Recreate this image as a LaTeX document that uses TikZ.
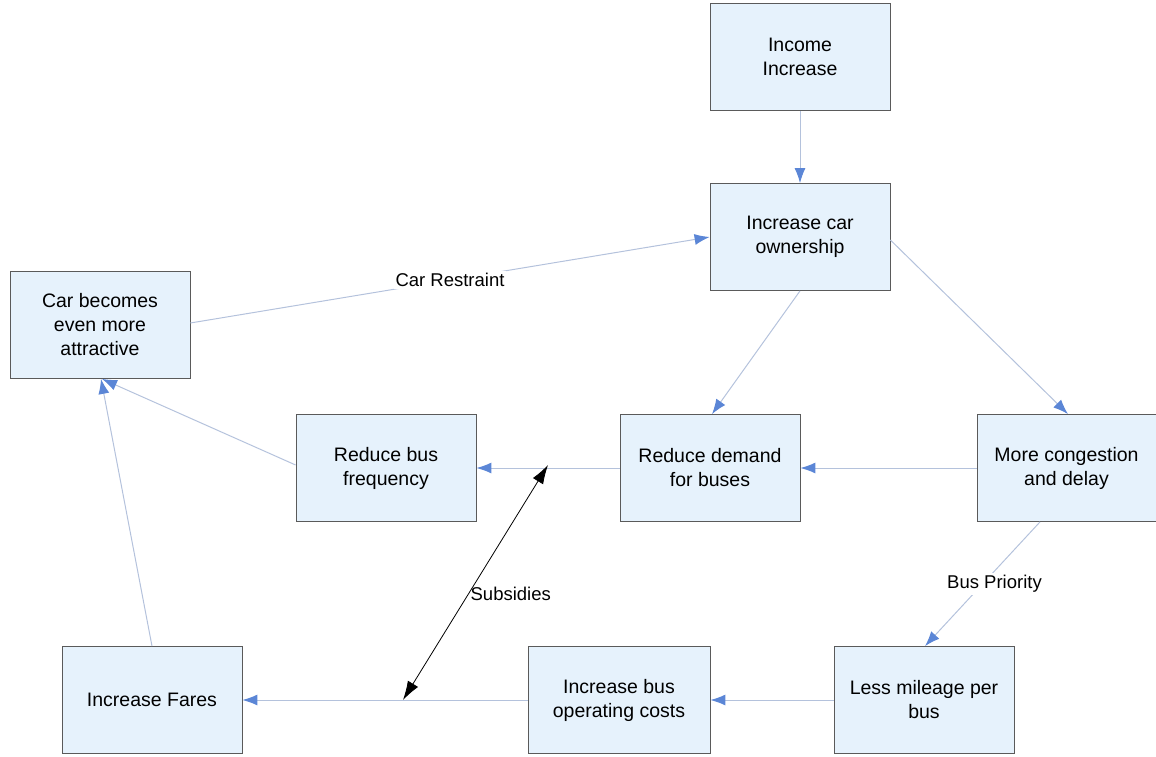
\documentclass[tikz,border=0pt]{standalone}
\usepackage{fontspec}
\setmainfont{Liberation Sans}
\usetikzlibrary{arrows.meta}
\definecolor{boxfill}{HTML}{E6F2FC}
\definecolor{boxline}{HTML}{5A5A5A}
\definecolor{linkline}{HTML}{B4C2DC}
\definecolor{headcol}{HTML}{5B86D6}
\begin{document}
\begin{tikzpicture}[x=1pt,y=-1pt,
  box/.style={draw=boxline,line width=0.8pt,fill=boxfill,minimum width=180pt,minimum height=107pt,
    align=center,font=\fontsize{19.5}{24}\selectfont,inner sep=2pt},
  link/.style={draw=linkline,line width=1pt,-{Latex[length=15pt,width=11pt,fill=headcol,color=headcol]}},
  lbl/.style={font=\fontsize{18.5}{22}\selectfont,fill=white,inner sep=2pt}]
\useasboundingbox (0,0) rectangle (1156,757);
\node[box] (inc) at (800,57) {Income\\Increase};
\node[box] (own) at (800,237) {Increase car\\ownership};
\node[box] (attr) at (100,325) {Car becomes\\even more\\attractive};
\node[box] (freq) at (386,468) {Reduce bus\\frequency};
\node[box] (dem) at (710,468) {Reduce demand\\for buses};
\node[box,minimum width=179pt] (cong) at (1066.5,468) {More congestion\\and delay};
\node[box] (fares) at (152,700) {Increase Fares};
\node[box,minimum width=182pt] (ops) at (619,700) {Increase bus\\operating costs};
\node[box] (mile) at (924,700) {Less mileage per\\bus};
\coordinate (subA) at (548,465);
\coordinate (subB) at (403,700);
\draw[link] (inc) -- (own);
\draw[link] ([yshift=2pt]attr.east) -- node[lbl,pos=0.5] {Car Restraint} (own.west);
\draw[link] (own.south) -- ([xshift=2pt]dem.north);
\draw[link] ([yshift=-3pt]own.east) -- ([xshift=1.5pt]cong.north);
\draw[link] (cong.west) -- (dem.east);
\draw[link] (dem.west) -- (freq.east);
\draw[link] ([yshift=3pt]freq.west) -- ([xshift=2pt]attr.south);
\draw[link] ([xshift=-26.5pt]cong.south) -- node[lbl,pos=0.5,xshift=12pt] {Bus Priority} ([xshift=1pt]mile.north);
\draw[link] (mile.west) -- (ops.east);
\draw[link] (ops.west) -- (fares.east);
\draw[link] (fares.north) -- ([xshift=1pt]attr.south);
\draw[black,line width=0.8pt,{Latex[length=19pt,width=12pt]}-{Latex[length=19pt,width=12pt]}] (subA) -- node[font=\fontsize{18.5}{22}\selectfont,inner sep=1pt,pos=0.55,right=1pt] {Subsidies} (subB);
\end{tikzpicture}
\end{document}
